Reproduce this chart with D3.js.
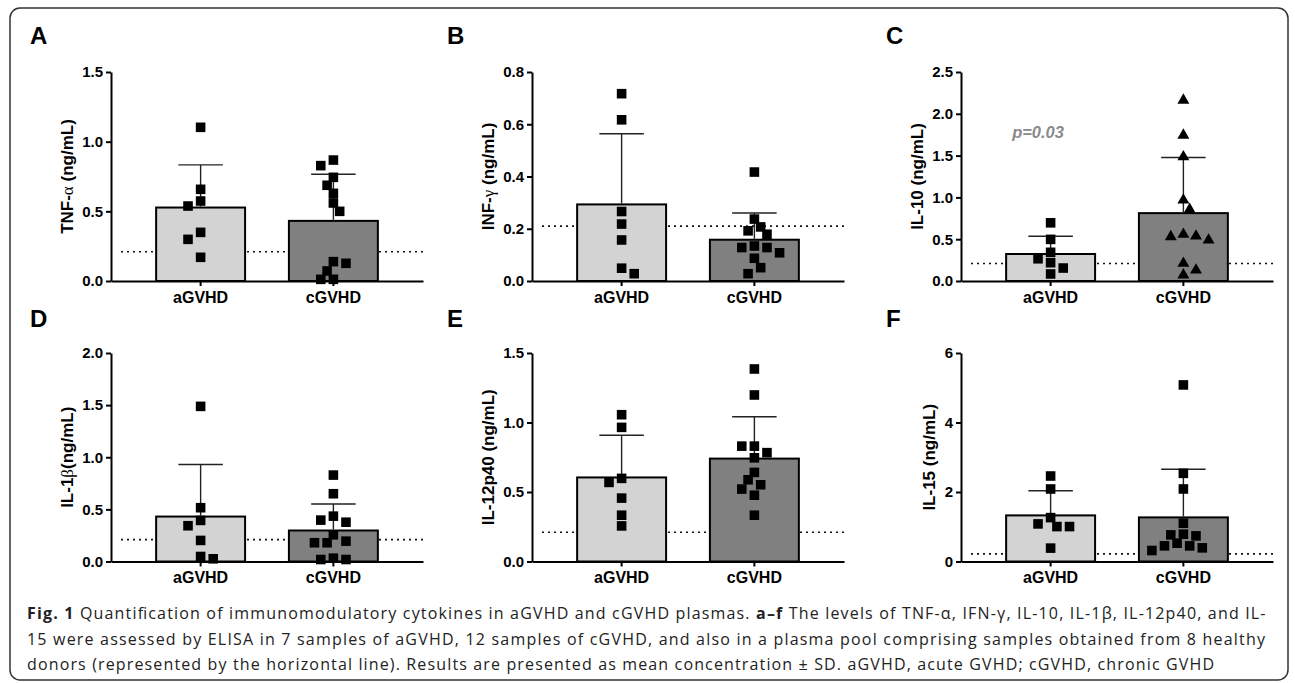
<!DOCTYPE html>
<html>
<head>
<meta charset="utf-8">
<script src="https://cdn.jsdelivr.net/npm/d3@7"></script>
<style>
  body { margin: 0; background: #fff; }
  svg { display: block; }
</style>
</head>
<body>
<svg id="fig" width="1295" height="683"></svg>
<script>
// ---- data (ng/mL) ----
const panelLetters = ["A", "B", "C", "D", "E", "F"];
const yLabels = ["TNF-α (ng/mL)", "INF-γ (ng/mL)", "IL-10 (ng/mL)", "IL-1β(ng/mL)", "IL-12p40 (ng/mL)", "IL-15 (ng/mL)"];
const groups = ["aGVHD", "cGVHD"];
const yMax = [1.5, 0.8, 2.5, 2.0, 1.5, 6];
const yTicks = [
    [0, 0.5, 1.0, 1.5],
    [0, 0.2, 0.4, 0.6, 0.8],
    [0, 0.5, 1.0, 1.5, 2.0, 2.5],
    [0, 0.5, 1.0, 1.5, 2.0],
    [0, 0.5, 1.0, 1.5],
    [0, 2, 4, 6]
];
const tickFormats = [".1f", ".1f", ".1f", ".1f", ".1f", "d"];
// healthy donor plasma pool (dotted line)
const healthyPool = [0.21, 0.21, 0.21, 0.21, 0.21, 0.22];
// individual samples, 7 aGVHD and 12 cGVHD per cytokine
const aGVHD = [
    [1.103, 0.658, 0.574, 0.538, 0.349, 0.299, 0.170],
    [0.717, 0.617, 0.266, 0.218, 0.157, 0.049, 0.028],
    [0.696, 0.498, 0.343, 0.266, 0.219, 0.155, 0.084],
    [1.488, 0.516, 0.394, 0.343, 0.202, 0.048, 0.026],
    [1.056, 0.965, 0.598, 0.569, 0.456, 0.333, 0.256],
    [2.460, 2.087, 1.263, 1.082, 1.005, 1.005, 0.385]
];
const cGVHD = [
    [0.868, 0.828, 0.744, 0.687, 0.629, 0.560, 0.500, 0.139, 0.127, 0.072, 0.012, 0.012],
    [0.417, 0.237, 0.207, 0.192, 0.179, 0.134, 0.128, 0.128, 0.108, 0.087, 0.051, 0.028],
    [2.162, 1.744, 1.485, 0.967, 0.856, 0.558, 0.537, 0.529, 0.490, 0.211, 0.131, 0.072],
    [0.829, 0.650, 0.435, 0.397, 0.377, 0.256, 0.195, 0.180, 0.180, 0.032, 0.019, 0.019],
    [1.385, 1.198, 0.830, 0.830, 0.783, 0.746, 0.641, 0.588, 0.552, 0.521, 0.477, 0.333],
    [5.081, 2.537, 2.087, 1.102, 0.786, 0.766, 0.737, 0.527, 0.450, 0.450, 0.393, 0.316]
];
const cMarkers = ["square", "square", "triangle", "square", "square", "square"];
const pValues = [null, null, "p=0.03", null, null, null];
const pValueAt = 1.71;

const captionLines = [
    [["Fig. 1", true], [" Quantification of immunomodulatory cytokines in aGVHD and cGVHD plasmas. ", false], ["a–f", true],
     [" The levels of TNF-α, IFN-γ, IL-10, IL-1β, IL-12p40, and IL-", false]],
    [["15 were assessed by ELISA in 7 samples of aGVHD, 12 samples of cGVHD, and also in a plasma pool comprising samples obtained from 8 healthy", false]],
    [["donors (represented by the horizontal line). Results are presented as mean concentration ± SD. aGVHD, acute GVHD; cGVHD, chronic GVHD", false]]
];

// ---- layout ----
const colX = [111, 532, 961];
const rowTop = [72, 353];
const rowBottom = [281, 561.5];
const plotW = 312;
const letterX = [30, 447, 886];
const letterY = [43.5, 327];
const groupFill = { aGVHD: "#d3d3d3", cGVHD: "#808080" };
const sansBold = "'Liberation Sans', Arial, sans-serif";

const svg = d3.select("#fig");

// outer frame
svg.append("rect")
    .attr("x", 10).attr("y", 8)
    .attr("width", 1278).attr("height", 672)
    .attr("rx", 10)
    .attr("fill", "none")
    .attr("stroke", "#333")
    .attr("stroke-width", 1.5);

// spread points of one group sideways so that markers do not pile up
function dodge(vals, y, step, minD) {
    const placed = [];
    vals.slice().sort((a, b) => b - a).forEach((v, n) => {
        const py = y(v);
        const side = n % 2 ? -1 : 1;
        const order = [0];
        for (let j = 1; j <= 5; j++) order.push(j * side, -j * side);
        let k = order.find(k => placed.every(q => Math.hypot((k - q.k) * step, py - q.py) >= minD));
        if (k === undefined) k = 0;
        placed.push({ v, py, k });
    });
    return placed;
}

panelLetters.forEach((letter, i) => {
    const col = i % 3, row = Math.floor(i / 3);
    const ox = colX[col];
    const y = d3.scaleLinear().domain([0, yMax[i]]).range([rowBottom[row], rowTop[row]]);
    const x = d3.scaleBand().domain(groups).range([0, plotW]).paddingInner(0.33).paddingOuter(0.34);
    const bw = x.bandwidth();
    const g = svg.append("g").attr("transform", `translate(${ox},0)`);

    // panel letter
    svg.append("text")
        .attr("x", letterX[col]).attr("y", letterY[row])
        .attr("font-family", sansBold).attr("font-weight", "bold")
        .attr("font-size", 24)
        .text(letter);

    // healthy pool dotted line (behind the bars)
    g.append("line")
        .attr("x1", 10).attr("x2", plotW)
        .attr("y1", y(healthyPool[i])).attr("y2", y(healthyPool[i]))
        .attr("stroke", "#111")
        .attr("stroke-width", 1.6)
        .attr("stroke-dasharray", "2,4");

    const stats = groups.map((grp, gi) => {
        const vals = gi === 0 ? aGVHD[i] : cGVHD[i];
        return { grp, vals, mean: d3.mean(vals), sd: d3.deviation(vals) };
    });

    // bars
    g.selectAll("rect.bar").data(stats).enter().append("rect")
        .attr("class", "bar")
        .attr("x", d => x(d.grp))
        .attr("y", d => y(d.mean))
        .attr("width", bw)
        .attr("height", d => y(0) - y(d.mean))
        .attr("fill", d => groupFill[d.grp])
        .attr("stroke", "#000")
        .attr("stroke-width", 2);

    // error bars (mean + SD)
    const eb = g.selectAll("g.err").data(stats).enter().append("g").attr("class", "err")
        .attr("stroke", "#222").attr("stroke-width", 1.4);
    eb.append("line")
        .attr("x1", d => x(d.grp) + bw / 2).attr("x2", d => x(d.grp) + bw / 2)
        .attr("y1", d => y(d.mean) - 1).attr("y2", d => y(d.mean + d.sd));
    eb.append("line")
        .attr("x1", d => x(d.grp) + bw / 4).attr("x2", d => x(d.grp) + bw * 3 / 4)
        .attr("y1", d => y(d.mean + d.sd)).attr("y2", d => y(d.mean + d.sd));

    // axes
    const yAxis = g.append("g").attr("class", "yaxis")
        .call(d3.axisLeft(y).tickValues(yTicks[i]).tickFormat(d3.format(tickFormats[i]))
            .tickSize(5).tickSizeOuter(0).tickPadding(3));
    const xAxis = g.append("g").attr("class", "xaxis")
        .attr("transform", `translate(0,${y(0)})`)
        .call(d3.axisBottom(x).tickSize(5).tickSizeOuter(0).tickPadding(5.6));
    [yAxis, xAxis].forEach(a => {
        a.select(".domain").attr("stroke", "#000").attr("stroke-width", 2);
        a.selectAll(".tick line").attr("stroke", "#000").attr("stroke-width", 2);
        a.selectAll(".tick text")
            .attr("fill", "#000")
            .attr("font-family", sansBold)
            .attr("font-weight", "bold");
    });
    yAxis.selectAll(".tick text").attr("font-size", 15);
    xAxis.selectAll(".tick text").attr("font-size", 16);

    // y label, placed just left of the widest tick label
    const tickW = d3.max(yAxis.selectAll(".tick text").nodes(), n => n.getBBox().width);
    const lx = -8 - tickW - 15;
    const ly = (rowTop[row] + rowBottom[row]) / 2;
    const label = g.append("text")
        .attr("transform", `translate(${lx},${ly}) rotate(-90)`)
        .attr("text-anchor", "middle")
        .attr("dy", "0.36em")
        .attr("font-family", sansBold)
        .attr("font-weight", "bold")
        .attr("font-size", 17);
    yLabels[i].split(/([αβγ])/).forEach(part => {
        if (!part) return;
        const greek = /[αβγ]/.test(part);
        label.append("tspan")
            .attr("font-family", greek ? "'Liberation Serif', serif" : null)
            .attr("font-weight", greek ? "normal" : null)
            .text(part);
    });

    // individual samples
    stats.forEach((s, gi) => {
        const cx = x(s.grp) + bw / 2;
        const shape = gi === 1 && cMarkers[i] === "triangle"
            ? d3.symbol(d3.symbolTriangle, 62)
            : d3.symbol(d3.symbolSquare, 92);
        const pts = dodge(s.vals, y, 6.3, 9.6);
        g.selectAll(null).data(pts).enter().append("path")
            .attr("d", shape)
            .attr("transform", d => `translate(${cx + d.k * 6.3},${d.py})`)
            .attr("fill", "#000");
    });

    // significance annotation
    if (pValues[i]) {
        g.append("text")
            .attr("x", x("aGVHD") + 6)
            .attr("y", y(pValueAt))
            .attr("font-family", sansBold)
            .attr("font-weight", "bold")
            .attr("font-style", "italic")
            .attr("font-size", 16.5)
            .attr("fill", "#8a8a8a")
            .text(pValues[i]);
    }
});

// caption
const captionY = [619, 644.5, 670];
const captionW = [1238.5, 1238, 1187];
captionLines.forEach((parts, li) => {
    const t = svg.append("text")
        .attr("x", 27).attr("y", captionY[li])
        .attr("font-family", "'Open Sans', sans-serif")
        .attr("font-size", 16)
        .attr("fill", "#222")
        .attr("textLength", captionW[li])
        .attr("lengthAdjust", "spacing");
    parts.forEach(([str, bold]) => {
        t.append("tspan").attr("font-weight", bold ? "bold" : null).text(str);
    });
});
</script>
</body>
</html>
